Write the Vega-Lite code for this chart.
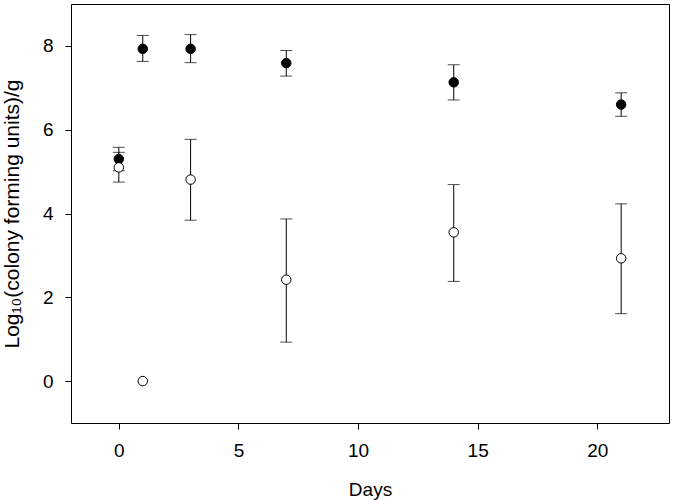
{
  "$schema": "https://vega.github.io/schema/vega-lite/v6.json",
  "width": 598,
  "height": 419,
  "autosize": "none",
  "padding": {"left": 71, "top": 4, "right": 5, "bottom": 81},
  "background": "white",
  "config": {
    "view": {"stroke": "black", "strokeWidth": 1},
    "axis": {
      "grid": false,
      "labelFont": "Liberation Sans",
      "titleFont": "Liberation Sans",
      "labelFontSize": 19,
      "titleFontSize": 19,
      "titleFontWeight": "normal",
      "labelColor": "black",
      "titleColor": "black",
      "tickColor": "black",
      "domainColor": "black",
      "tickSize": 6
    }
  },
  "data": {
    "values": [
      {"day": 0, "mean": 5.30, "lower": 5.02, "upper": 5.58, "group": "filled"},
      {"day": 1, "mean": 7.93, "lower": 7.63, "upper": 8.25, "group": "filled"},
      {"day": 3, "mean": 7.93, "lower": 7.60, "upper": 8.27, "group": "filled"},
      {"day": 7, "mean": 7.59, "lower": 7.28, "upper": 7.89, "group": "filled"},
      {"day": 14, "mean": 7.13, "lower": 6.71, "upper": 7.55, "group": "filled"},
      {"day": 21, "mean": 6.60, "lower": 6.32, "upper": 6.88, "group": "filled"},
      {"day": 0, "mean": 5.10, "lower": 4.75, "upper": 5.46, "group": "open"},
      {"day": 1, "mean": 0.0, "lower": null, "upper": null, "group": "open"},
      {"day": 3, "mean": 4.81, "lower": 3.84, "upper": 5.77, "group": "open"},
      {"day": 7, "mean": 2.42, "lower": 0.93, "upper": 3.87, "group": "open"},
      {"day": 14, "mean": 3.55, "lower": 2.38, "upper": 4.69, "group": "open"},
      {"day": 21, "mean": 2.93, "lower": 1.61, "upper": 4.23, "group": "open"}
    ]
  },
  "encoding": {
    "x": {
      "field": "day",
      "type": "quantitative",
      "scale": {"domain": [-2, 23], "nice": false, "zero": false},
      "axis": {"values": [0, 5, 10, 15, 20], "title": "Days", "domain": false, "labelPadding": 12, "titlePadding": 20}
    }
  },
  "layer": [
    {
      "transform": [{"filter": "datum.lower != null"}],
      "mark": {"type": "rule", "color": "black", "strokeWidth": 1},
      "encoding": {
        "y": {
          "field": "lower",
          "type": "quantitative",
          "scale": {"domain": [-1, 9], "nice": false, "zero": false},
          "axis": {"values": [0, 2, 4, 6, 8], "title": "Log₁₀(colony forming units)/g", "titleFontSize": 21, "domain": false, "labelPadding": 12, "titlePadding": 20}
        },
        "y2": {"field": "upper"}
      }
    },
    {
      "transform": [{"filter": "datum.lower != null"}],
      "mark": {"type": "tick", "orient": "horizontal", "size": 12, "thickness": 1, "color": "black"},
      "encoding": {"y": {"field": "lower", "type": "quantitative"}}
    },
    {
      "transform": [{"filter": "datum.upper != null"}],
      "mark": {"type": "tick", "orient": "horizontal", "size": 12, "thickness": 1, "color": "black"},
      "encoding": {"y": {"field": "upper", "type": "quantitative"}}
    },
    {
      "mark": {"type": "point", "shape": "circle", "size": 90, "stroke": "black", "strokeWidth": 1, "opacity": 1, "filled": true},
      "encoding": {
        "y": {"field": "mean", "type": "quantitative"},
        "fill": {
          "field": "group",
          "type": "nominal",
          "scale": {"domain": ["filled", "open"], "range": ["black", "white"]},
          "legend": null
        },
        "stroke": {"value": "black"}
      }
    }
  ]
}
